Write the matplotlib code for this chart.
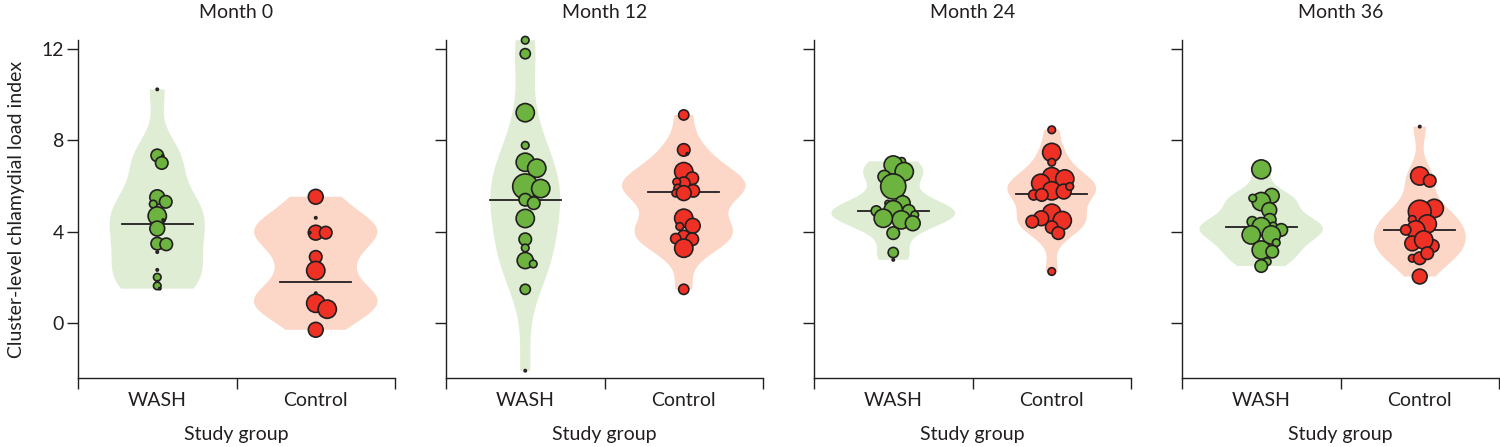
import numpy as np
import matplotlib.pyplot as plt

plt.rcParams['font.family'] = ['Lato', 'DejaVu Sans']

DPI = 100
INK = '#231f20'

months = ['Month 0', 'Month 12', 'Month 24', 'Month 36']
groups = ['WASH', 'Control']

# cluster-level load index per cluster, and cluster weight (marker area)
wash_m0 = [10.22, 7.33, 7.30, 7.00, 5.50, 5.30, 5.20, 4.68, 4.50, 4.13, 3.47, 3.44,
           3.10, 2.32, 2.00, 1.80, 1.62, 1.50]
wash_m0_w = [1, 30, 1, 30, 42, 30, 11, 64, 1, 42, 30, 30, 1, 1, 11, 1, 11, 1]
control_m0 = [5.52, 4.60, 3.95, 3.95, 3.95, 2.89, 2.29, 1.30, 1.03, 0.86, 0.60, -0.30]
control_m0_w = [42, 1, 42, 30, 1, 30, 64, 1, 1, 64, 64, 42]

wash_m12 = [12.37, 11.78, 9.20, 7.77, 7.03, 6.77, 5.97, 5.88, 5.39, 5.24, 4.57, 3.66,
            3.28, 2.73, 2.58, 1.47, -2.09]
wash_m12_w = [11, 20, 64, 11, 64, 64, 121, 64, 30, 30, 64, 30, 11, 50, 11, 20, 1]
control_m12 = [9.10, 7.57, 7.40, 6.62, 6.33, 6.11, 6.17, 5.90, 5.78, 5.68, 5.68, 4.58,
               4.25, 4.22, 3.78, 3.69, 3.66, 3.27, 1.47]
control_m12_w = [20, 30, 1, 64, 30, 30, 11, 11, 30, 11, 42, 64, 42, 11, 30, 20, 30, 64, 20]

wash_m24 = [7.07, 6.91, 6.62, 6.40, 5.97, 5.24, 5.24, 4.95, 4.90, 4.90, 4.51, 4.58,
            4.73, 4.36, 3.93, 3.08, 2.76]
wash_m24_w = [11, 64, 64, 30, 121, 42, 6, 64, 30, 20, 64, 64, 11, 42, 30, 20, 1]
control_m24 = [8.45, 7.46, 7.03, 6.40, 6.30, 6.11, 5.78, 5.75, 5.97, 5.60, 5.60, 4.80,
               4.58, 4.48, 4.19, 4.43, 3.93, 2.25]
control_m24_w = [11, 64, 11, 64, 64, 64, 64, 42, 11, 20, 30, 64, 42, 64, 30, 30, 30, 11]

wash_m36 = [6.72, 5.56, 5.31, 5.46, 4.94, 4.51, 4.43, 4.24, 4.07, 4.21, 3.85, 3.85,
            3.51, 3.19, 3.12, 2.68, 2.49]
wash_m36_w = [69, 42, 64, 11, 42, 30, 20, 11, 30, 64, 64, 64, 11, 64, 30, 11, 30]
control_m36 = [8.59, 6.43, 6.22, 5.01, 4.87, 4.53, 4.33, 4.07, 4.07, 3.48, 3.37, 3.63,
               2.83, 2.83, 3.05, 2.03]
control_m36_w = [1, 64, 30, 64, 100, 11, 64, 64, 20, 42, 30, 64, 11, 30, 30, 42]

wash_median = [4.33, 5.37, 4.90, 4.21]
control_median = [1.79, 5.71, 5.65, 4.07]

wash_vals = [wash_m0, wash_m12, wash_m24, wash_m36]
wash_wts = [wash_m0_w, wash_m12_w, wash_m24_w, wash_m36_w]
control_vals = [control_m0, control_m12, control_m24, control_m36]
control_wts = [control_m0_w, control_m12_w, control_m24_w, control_m36_w]

# styling
fill_col = {'WASH': '#dfedd4', 'Control': '#fcd6c6'}
dot_col = {'WASH': '#6cb33f', 'Control': '#ee3124'}
violin_w = {'WASH': [0.30, 0.22, 0.39, 0.39], 'Control': [0.39, 0.39, 0.28, 0.29]}
pos = {'WASH': 0.25, 'Control': 0.75}
S_SCALE = 2.7


def swarm(vals, sizes, ppu_y, ppu_x, overlap=0.7):
    # simple beeswarm: biggest markers go in first, nearest free spot to centre
    r = np.sqrt(sizes) / 2 * DPI / 72
    y = np.asarray(vals) * ppu_y
    xs = np.zeros(len(vals))
    placed = []
    for i in np.argsort(-r, kind='stable'):
        for k in range(600):
            off = ((k + 1) // 2) * 0.5 * (1 if k % 2 else -1)
            if all(np.hypot(off - xs[j], y[i] - y[j]) >= overlap * (r[i] + r[j]) for j in placed):
                break
        xs[i] = off
        placed.append(i)
    return xs / ppu_x


fig = plt.figure(figsize=(15, 4.47), dpi=DPI)
W, H = 1500, 447
lefts = [78, 446, 814, 1182]
ax_w, bottom, top = 317, 378, 40
ylim = (-2.41, 12.38)

for p, month in enumerate(months):
    ax = fig.add_axes([lefts[p] / W, (H - bottom) / H, ax_w / W, (bottom - top) / H])
    ax.set_xlim(0, 1)
    ax.set_ylim(*ylim)
    ppu_x = ax_w
    ppu_y = (bottom - top) / (ylim[1] - ylim[0])

    for g, vals, wts, med in [('WASH', wash_vals[p], wash_wts[p], wash_median[p]),
                              ('Control', control_vals[p], control_wts[p], control_median[p])]:
        vp = ax.violinplot([vals], positions=[pos[g]], widths=violin_w[g][p],
                           showextrema=False, bw_method=0.4)
        for b in vp['bodies']:
            b.set_facecolor(fill_col[g])
            b.set_edgecolor('none')
            b.set_alpha(1)
            b.set_zorder(1)
        ax.plot([pos[g] - 0.112, pos[g] + 0.112], [med, med], color=INK, lw=1.3, zorder=2)
        s = np.array(wts) * S_SCALE
        dx = swarm(vals, s, ppu_y, ppu_x)
        ax.scatter(pos[g] + dx, vals, s=s, color=dot_col[g], edgecolor=INK,
                   linewidth=1.2, zorder=3, clip_on=False)

    for side in ['top', 'right']:
        ax.spines[side].set_visible(False)
    for side in ['left', 'bottom']:
        ax.spines[side].set_color(INK)
        ax.spines[side].set_linewidth(1.0)

    ax.set_yticks([0, 4, 8, 12])
    ax.tick_params(axis='y', length=8, width=1.0, color=INK, labelcolor=INK,
                   labelsize=14, pad=2)
    ax.set_xticks([0, 0.5, 1])
    ax.set_xticklabels(['', '', ''])
    ax.set_xticks([0.25, 0.75], minor=True)
    ax.set_xticklabels(groups, minor=True)
    ax.tick_params(axis='x', which='major', length=8, width=1.0, color=INK)
    ax.tick_params(axis='x', which='minor', length=0, pad=10, labelsize=14, labelcolor=INK)
    if p > 0:
        ax.set_yticklabels([])
    else:
        ax.set_ylabel('Cluster-level chlamydial load index', fontsize=14, color=INK, labelpad=12)
    ax.set_xlabel('Study group', fontsize=14, color=INK, labelpad=12)
    ax.set_title(month, fontsize=14, color=INK, pad=16)

fig.savefig('out.png', dpi=DPI)
